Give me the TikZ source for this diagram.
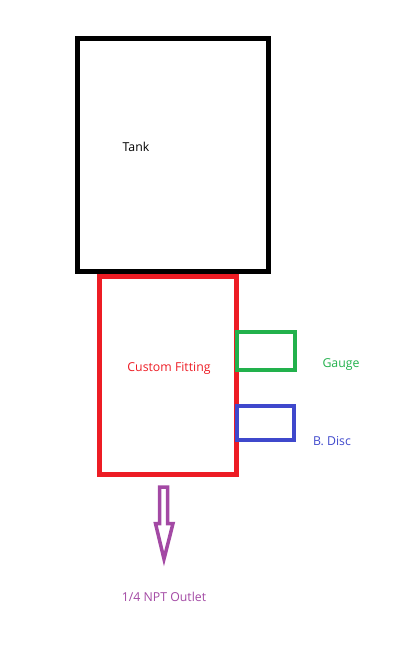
\documentclass[tikz,border=0pt]{standalone}
\usepackage{fontspec}
\setmainfont{Open Sans}
\definecolor{pblack}{RGB}{0,0,0}
\definecolor{pred}{RGB}{237,28,36}
\definecolor{pgreen}{RGB}{34,177,76}
\definecolor{pblue}{RGB}{63,72,204}
\definecolor{ppurple}{RGB}{163,73,164}
\begin{document}
\begin{tikzpicture}[x=1pt,y=-1pt,
  box/.style={draw,rectangle,inner sep=0pt,outer sep=0pt},
  lbl/.style={font=\fontsize{12.3}{14}\selectfont,inner sep=0pt}]
\useasboundingbox (0,0) rectangle (419,672);
% tank
\node[box,pblack,line width=5pt,minimum width=191pt,minimum height=233pt] (tank) at (173,155) {};
\node[lbl,pblack] (tanklbl) at (136,147) {Tank};
% custom fitting
\node[box,pred,line width=5pt,minimum width=137pt,minimum height=198pt] (fit) at (168,375.5) {};
\node[lbl,pred] (fitlbl) at (169,368) {Custom Fitting};
% gauge
\node[box,pgreen,line width=4pt,minimum width=58pt,minimum height=38pt] (gauge) at (266,351) {};
\node[lbl,pgreen] (gaugelbl) at (341,365) {Gauge};
% burst disc
\node[box,pblue,line width=4pt,minimum width=57pt,minimum height=34pt] (disc) at (265.5,423) {};
\node[lbl,pblue] (disclbl) at (332,441.5) {B. Disc};
% outlet arrow
\coordinate (atop) at (163.5,487);
\draw[ppurple,line width=3.5pt,line join=miter]
  (159.5,487) -- (167.5,487) -- (167.5,523.5) -- (173,523.5) -- (164,559)
  -- (155.5,523.5) -- (159.5,523.5) -- cycle;
\node[lbl,ppurple] (outlbl) at (164,597) {1/4 NPT Outlet};
\end{tikzpicture}
\end{document}
